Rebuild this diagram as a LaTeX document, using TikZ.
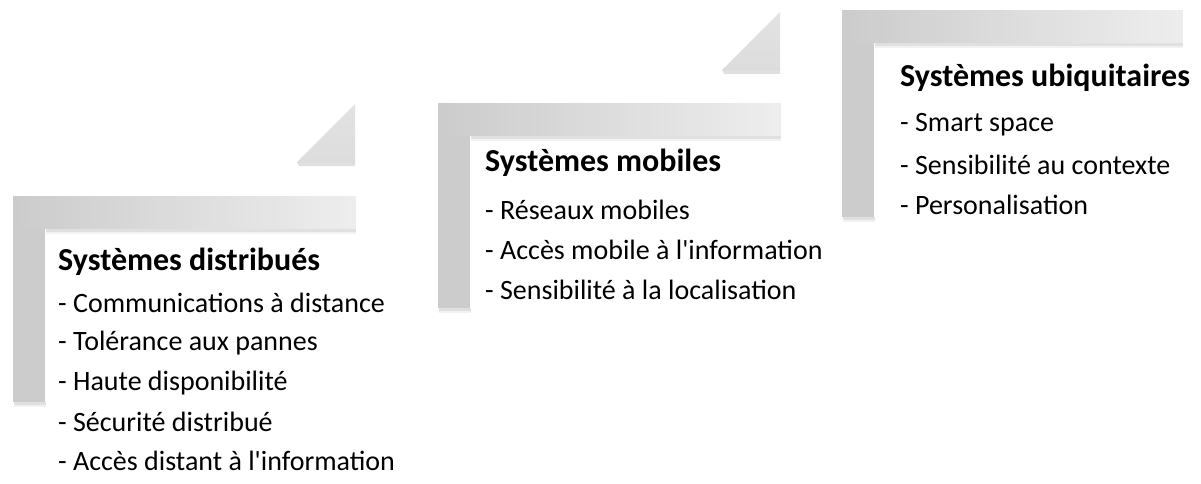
\documentclass[tikz,border=0pt]{standalone}
\usepackage{fontspec}
\setmainfont{Carlito}
\newfontfamily\plainap{Carlito}[Ligatures=ResetAll]
\newcommand{\apos}{{\plainap\char"0027}}
\begin{document}
\begin{tikzpicture}[x=1pt,y=-1pt,
  title/.style={anchor=west,inner sep=0pt,font=\fontsize{32}{36}\selectfont\bfseries},
  item/.style={anchor=west,inner sep=0pt,font=\fontsize{28}{32}\selectfont},
  shade/.style={fill=black,opacity=0.12}]
\useasboundingbox (0,0) rectangle (1201,484);
\foreach \X/\Y/\W/\H in {13/196/342/206, 438/103/342/205, 842/10/340/207}{
  % soft shadows
  \fill[shade] (\X+1,\Y+\H) rectangle (\X+33,\Y+\H+3);
  \fill[shade] (\X+33,\Y+33) rectangle (\X+\W+1,\Y+36);
  \fill[black,opacity=0.05] (\X+1,\Y+\H+3) rectangle (\X+33,\Y+\H+5);
  \fill[black,opacity=0.05] (\X+33,\Y+36) rectangle (\X+\W+1,\Y+38);
  % vertical bar
  \fill[gray!40!white] (\X,\Y) rectangle (\X+32,\Y+\H);
  % horizontal bar with gradient (strips)
  \foreach \i in {0,...,39}{
    \pgfmathsetmacro{\pc}{40-26*\i/39}
    \fill[gray!\pc!white] (\X+\W*\i/40,\Y) rectangle (\X+\W*\i/40+\W/40+0.6,\Y+33);
  }
}
% triangles
\foreach \X/\Y in {297/104, 722/12}{
  \fill[shade] (\X,\Y+58) -- (\X+58,\Y+58) -- (\X+58,\Y+62) -- (\X+2,\Y+62) -- cycle;
  \shade[top color=gray!12!white,bottom color=gray!45!white] (\X,\Y+58) -- (\X+58,\Y+58) -- (\X+58,\Y) -- cycle;
}
% texts
\node[title] (t1) at (58,262) {Systèmes distribués};
\node[item] (a1) at (58,303) {- Communications à distance};
\node[item] (a2) at (58,343) {- Tolérance aux pannes};
\node[item] (a3) at (58,383) {- Haute disponibilité};
\node[item] (a4) at (58,422) {- Sécurité distribué};
\node[item] (a5) at (58,461) {- Accès distant à l\apos information};
\node[title] (t2) at (485,163) {Systèmes mobiles};
\node[item] (b1) at (485,210) {- Réseaux mobiles};
\node[item] (b2) at (485,250) {- Accès mobile à l\apos information};
\node[item] (b3) at (485,290) {- Sensibilité à la localisation};
\node[title] (t3) at (900,78) {Systèmes ubiquitaires};
\node[item] (c1) at (900,125) {- Smart space};
\node[item] (c2) at (900,165) {- Sensibilité au contexte};
\node[item] (c3) at (900,205) {- Personalisation};
\end{tikzpicture}
\end{document}
